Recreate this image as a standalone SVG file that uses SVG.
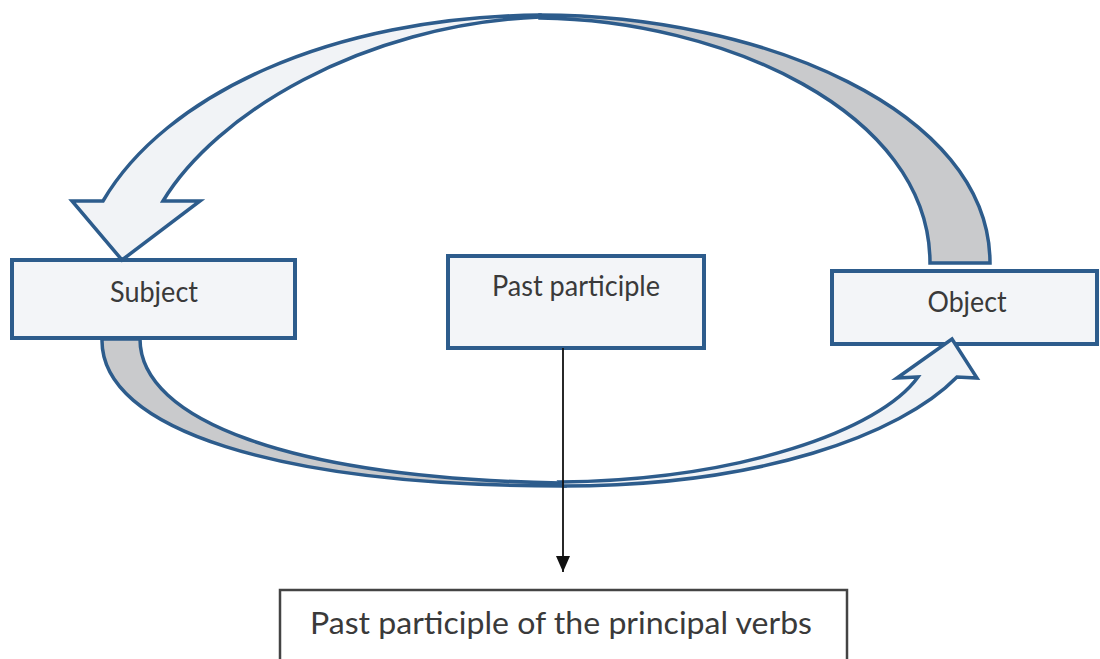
<svg xmlns="http://www.w3.org/2000/svg" width="1100" height="659" viewBox="0 0 1100 659">
  <defs>
    <style>
      .node { fill: #f3f5f8; stroke: #2d5c8c; stroke-width: 4; }
      .lbl { font-family: Lato, "Open Sans", "Liberation Sans", sans-serif; fill: #3a3a3a; text-anchor: middle; }
      .light { fill: #f1f3f6; stroke: #2d5c8c; stroke-width: 3.5; stroke-linejoin: miter; }
      .gray { fill: #c9cacc; stroke: #2d5c8c; stroke-width: 3.5; stroke-linejoin: miter; }
    </style>
    <marker id="arr" markerWidth="16" markerHeight="14" refX="16" refY="7" orient="auto" markerUnits="userSpaceOnUse" viewBox="0 0 16 14">
      <path d="M0,0 L16,7 L0,14 Z" fill="#111"/>
    </marker>
  </defs>
  <rect width="1100" height="659" fill="#ffffff"/>

  <g id="subject">
    <rect class="node" x="12" y="260" width="283" height="78"/>
    <text class="lbl" x="154" y="302" font-size="28" textLength="88" lengthAdjust="spacingAndGlyphs">Subject</text>
  </g>
  <g id="past-participle">
    <rect class="node" x="448" y="256" width="256" height="92"/>
    <text class="lbl" x="576" y="296" font-size="28" textLength="168" lengthAdjust="spacingAndGlyphs">Past participle</text>
  </g>
  <g id="object">
    <rect class="node" x="832" y="271" width="265" height="73"/>
    <text class="lbl" x="967" y="312" font-size="28" textLength="79" lengthAdjust="spacingAndGlyphs">Object</text>
  </g>
  <g id="past-participle-principal">
    <rect x="280" y="590" width="567" height="90" fill="#ffffff" stroke="#444444" stroke-width="2.5"/>
    <text class="lbl" x="561" y="634" font-size="31" textLength="502" lengthAdjust="spacingAndGlyphs">Past participle of the principal verbs</text>
  </g>

  <g id="connectors">
    <path class="gray" d="M540,15 C760,15 990,110 990,263 L930,263 C930,110 720,20 540,18 Z"/>
    <path class="light" d="M103,201 C165,95 330,17 540,15 L540,17 C360,25 215,115 163,201 L200,201 L122,260 L72,201 Z"/>
    <path class="gray" d="M102,339 C100,430 280,486 563,486 L560,483 C290,478 140,420 140,339 Z"/>
    <path class="light" d="M563,486 C760,486 900,435 957,377 L977,378 L952,339 L897,378 L918,377 C880,430 740,480 560,482 Z"/>
    <line x1="563" y1="348" x2="563" y2="572" stroke="#111" stroke-width="1.8" marker-end="url(#arr)"/>
  </g>
</svg>
